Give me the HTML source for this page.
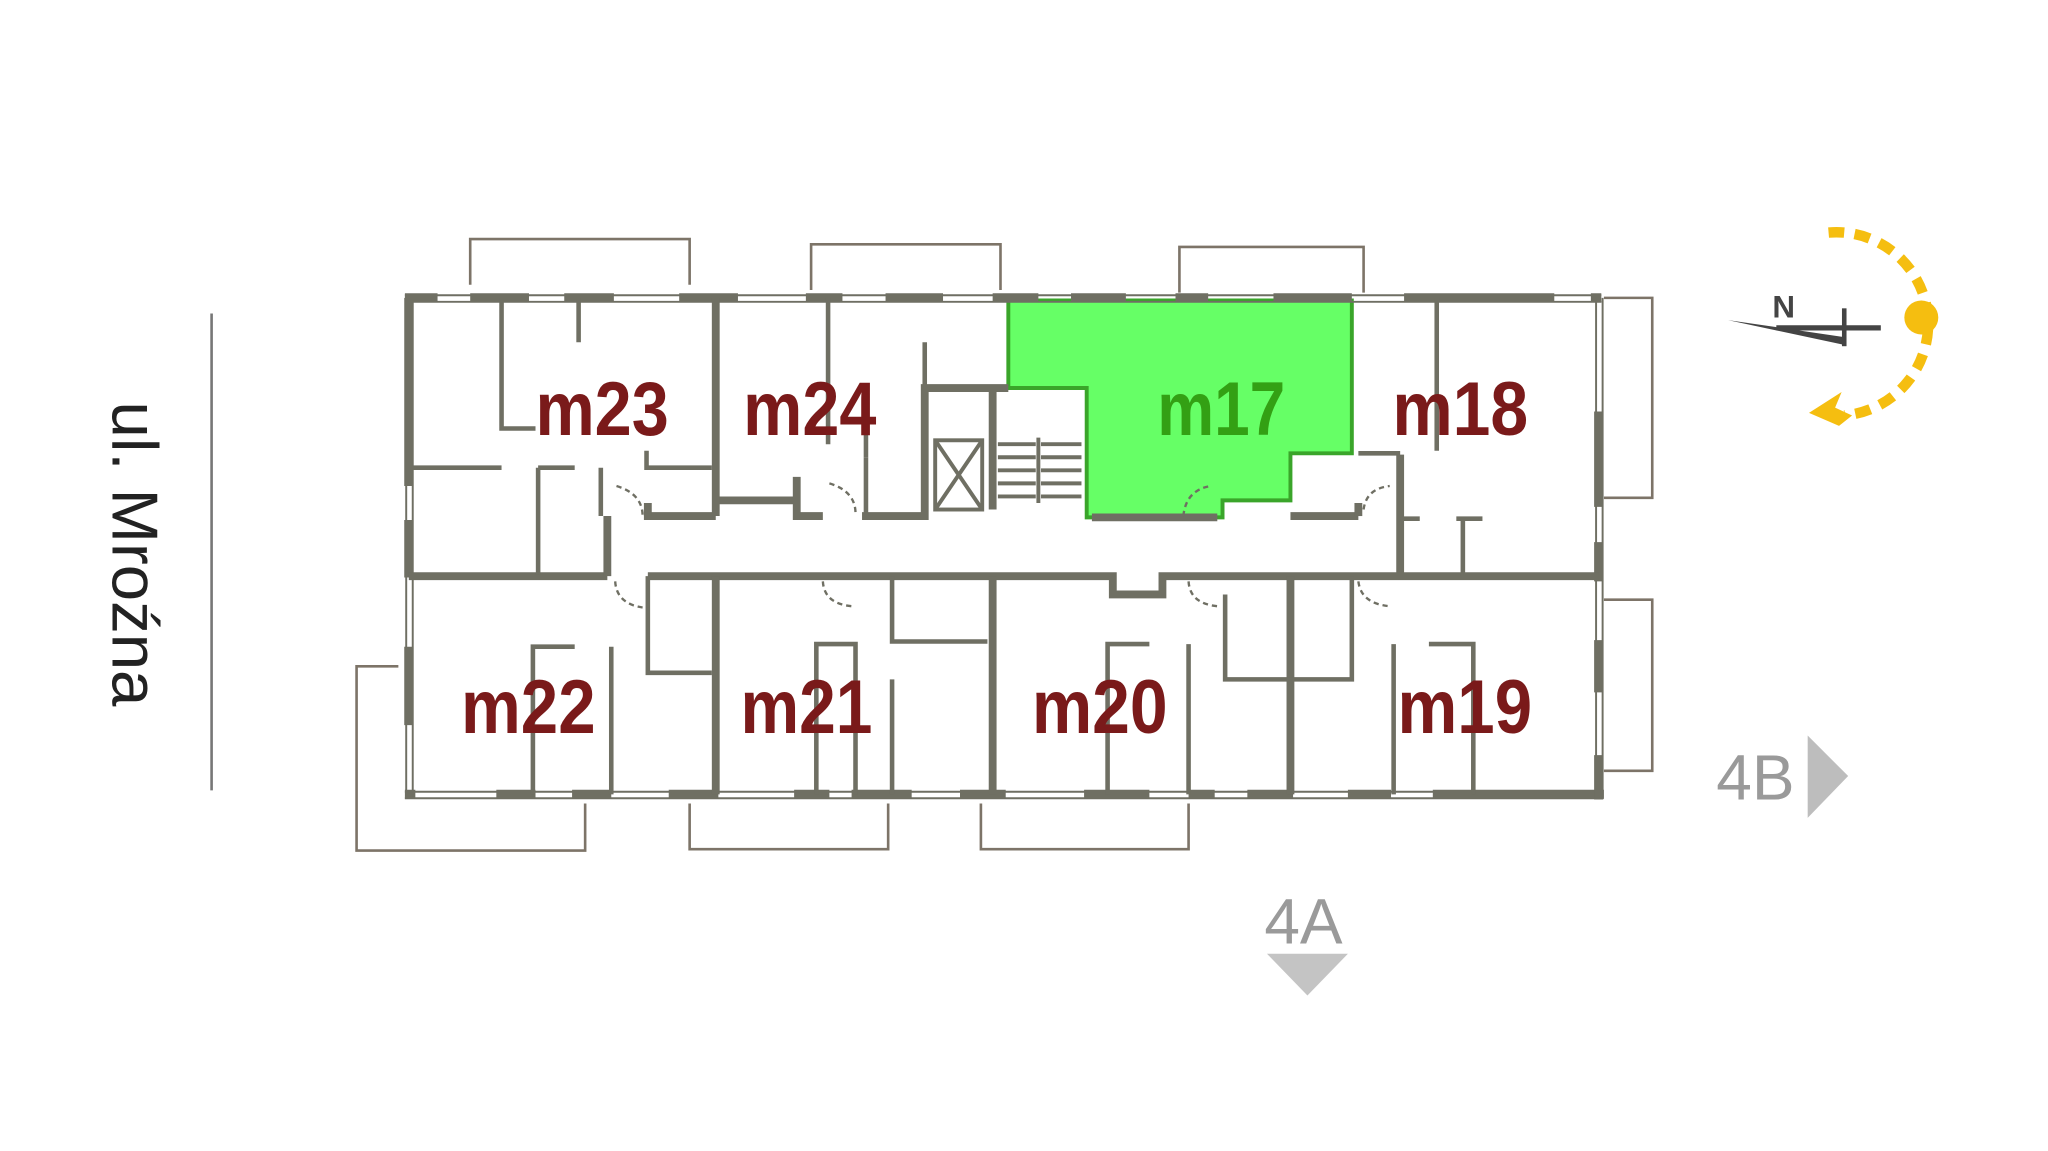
<!DOCTYPE html>
<html><head><meta charset="utf-8"><style>
html,body{margin:0;padding:0;background:#fff;width:2048px;height:1151px;overflow:hidden}
svg{display:block}
.lbl{font-family:"Liberation Sans Narrow","Liberation Sans",sans-serif;font-weight:bold;font-size:58px;fill:#7a1a1a}
</style></head><body>
<svg width="2048" height="1151" viewBox="0 0 1568 881" preserveAspectRatio="none" xmlns="http://www.w3.org/2000/svg">
<rect width="1568" height="881" fill="#fff"/>
<!-- street -->
<line x1="162" y1="240" x2="162" y2="605" stroke="#777" stroke-width="2"/>
<text x="86" y="424" transform="rotate(90 86 424)" text-anchor="middle" font-family="Liberation Sans,sans-serif" font-size="50" fill="#222">ul. Mroźna</text>

<!-- balconies -->
<g fill="none" stroke="#7d7468" stroke-width="2">
<polyline points="360,218 360,183 528,183 528,218"/>
<polyline points="621,222 621,187 766,187 766,222"/>
<polyline points="903,224 903,189 1044,189 1044,224"/>
<polyline points="1228,228 1265,228 1265,381 1228,381"/>
<polyline points="1228,459 1265,459 1265,590 1228,590"/>
<polyline points="305,510 273,510 273,651 448,651 448,615"/>
<polyline points="528,615 528,650 680,650 680,615"/>
<polyline points="751,615 751,650 910,650 910,615"/>
</g>

<!-- green unit -->
<polygon points="772,230 1035,230 1035,347 988,347 988,383 936,383 936,396 832,396 832,297 772,297" fill="#66ff66" stroke="#3aa52a" stroke-width="3"/>

<g stroke="#6f6f63" fill="none">
<!-- outer light walls -->
<g stroke-width="1.5">
<line x1="310" y1="226" x2="1226" y2="226"/><line x1="310" y1="231" x2="1226" y2="231"/>
<line x1="310" y1="606" x2="1226" y2="606"/><line x1="310" y1="611" x2="1226" y2="611"/>
<line x1="311" y1="228" x2="311" y2="610"/><line x1="316" y1="228" x2="316" y2="610"/>
<line x1="1222" y1="228" x2="1222" y2="610"/><line x1="1227" y1="228" x2="1227" y2="610"/>
</g>
<!-- top wall segments -->
<g stroke-width="7">
<path d="M310 228H335M360 228H405M432 228H470M520 228H565M617 228H645M678 228H722M760 228H795M820 228H862M900 228H925M975 228H1035M1075 228H1190M1218 228H1226"/>
<path d="M310 608H318M380 608H410M438 608H468M512 608H550M608 608H635M652 608H698M735 608H770M830 608H880M910 608H930M955 608H990M1032 608H1065M1097 608H1228"/>
<path d="M313 228V372M313 398V442M313 495V555M1224 315V388M1224 415V445M1224 490V530M1224 578V612"/>
</g>
<!-- main interior walls -->
<g stroke-width="6">
<path d="M313 441H465M496 441H852V455H890V441H1224"/>
<path d="M548 228V395M493 395H548M548 383H610M610 365V395H630M660 395H708V297H772M760 297V390"/>
<path d="M988 395H1040M1072 395V441M1072 348V395"/>
<path d="M465 395V441M496 385V395"/>
<path d="M548 441V608M760 441V608M988 441V608"/>
<path d="M836 396H932"/>
<path d="M1040 395V385"/>
</g>
<g stroke-width="3.5">
<path d="M384 228V328H410M443 228V262M495 345V358H545M634 228V340M663 320V350M708 262V297M1100 228V345"/>
<path d="M316 358H384M412 358V440M412 358H440M460 358V395"/>
<path d="M1072 397H1087M1115 397H1135M1120 397V441"/>
<path d="M496 441V515H545M683 441V491H756M683 520V608M663 395V350"/>
<path d="M938 455V520H1035V455M1035 470V441"/>
<path d="M1040 347H1072"/>
<path d="M408 608V495H440M468 608V495M625 608V493H655V608M848 608V493H880M910 608V493M1067 608V493M1094 493H1128V608"/>
</g>
<!-- elevator & stairs -->
<g stroke-width="3">
<rect x="716" y="337" width="36" height="53"/>
<path d="M716 337L752 390M752 337L716 390"/>
</g>
<g stroke-width="3">
<path d="M764 340H793M764 350H793M764 360H793M764 370H793M764 380H793M797 340H828M797 350H828M797 360H828M797 370H828M797 380H828M795 335V385"/>
</g>
<!-- doors -->
<g stroke-width="1.8" stroke-dasharray="4 3">
<path d="M472 372Q492 378 492 395"/>
<path d="M635 370Q655 376 655 393"/>
<path d="M471 445Q472 462 492 465"/>
<path d="M630 445Q631 462 652 464"/>
<path d="M910 445Q911 462 932 464"/>
<path d="M1040 445Q1042 462 1064 464"/>
<path d="M1044 390Q1046 374 1064 372"/>
<path d="M906 395Q908 375 927 372"/>
</g>
</g>

<!-- labels -->
<text class="lbl" x="410" y="333" textLength="102" lengthAdjust="spacingAndGlyphs">m23</text>
<text class="lbl" x="569" y="333" textLength="102" lengthAdjust="spacingAndGlyphs">m24</text>
<text class="lbl" x="886" y="333" textLength="98" lengthAdjust="spacingAndGlyphs" style="fill:#33a014">m17</text>
<text class="lbl" x="1066" y="333" textLength="104" lengthAdjust="spacingAndGlyphs">m18</text>
<text class="lbl" x="353" y="561" textLength="103" lengthAdjust="spacingAndGlyphs">m22</text>
<text class="lbl" x="567" y="561" textLength="101" lengthAdjust="spacingAndGlyphs">m21</text>
<text class="lbl" x="790" y="561" textLength="104" lengthAdjust="spacingAndGlyphs">m20</text>
<text class="lbl" x="1070" y="561" textLength="103" lengthAdjust="spacingAndGlyphs">m19</text>

<!-- section markers -->
<text x="1314" y="612" font-family="Liberation Sans,sans-serif" font-size="49" fill="#9a9a9a">4B</text>
<polygon points="1384,563 1415,594 1384,626" fill="#bdbdbd"/>
<text x="968" y="722" font-family="Liberation Sans,sans-serif" font-size="49" fill="#9a9a9a">4A</text>
<polygon points="970,730 1032,730 1001,762" fill="#c4c4c4"/>

<!-- compass -->
<text x="1357" y="243" font-family="Liberation Sans Narrow,Liberation Sans,sans-serif" font-weight="bold" font-size="24" fill="#444">N</text>
<polygon points="1323,245 1412,258 1412,264" fill="#444"/>
<line x1="1360" y1="251" x2="1440" y2="251" stroke="#444" stroke-width="4"/>
<line x1="1412" y1="236" x2="1412" y2="265" stroke="#444" stroke-width="3.5"/>
<path d="M1400 178 A70 70 0 0 1 1412 318" fill="none" stroke="#f5be10" stroke-width="8" stroke-dasharray="12 8" transform="translate(0,0)"/>
<circle cx="1471" cy="243" r="13" fill="#f5be10"/>
<polygon points="1385,316 1410,300 1405,312 1418,318 1408,326" fill="#f5be10"/>
</svg>
</body></html>
